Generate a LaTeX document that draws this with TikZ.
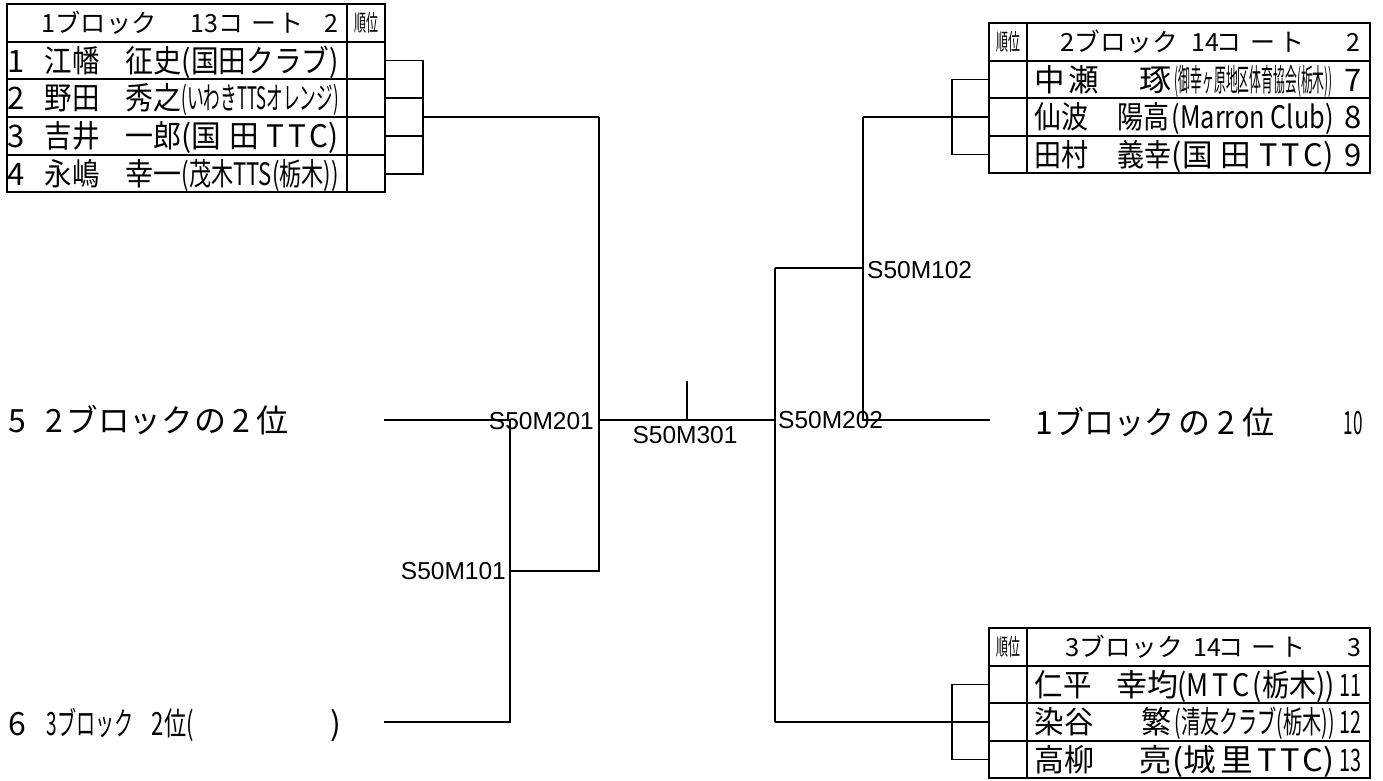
\documentclass[tikz,border=0pt]{standalone}
\usepackage{fontspec}
\usepackage{graphicx}
\setmainfont{Noto Sans CJK JP}
\newfontfamily\latf{Liberation Sans}
% piece resized to a given width, at an offset from the node origin
\newcommand\at[3]{\makebox[0pt][l]{\hspace*{#1pt}\resizebox{#2pt}{\height}{#3}}}
% piece at natural size, left edge at offset
\newcommand\atn[2]{\makebox[0pt][l]{\hspace*{#1pt}#2}}
% piece at natural size, centred on offset
\newcommand\atc[2]{\makebox[0pt][l]{\hspace*{#1pt}\makebox[0pt]{#2}}}
\tikzset{
  ln/.style={line width=1.3pt},
  tb/.style={line width=1.3pt},
  rowtxt/.style={anchor=base west, inner sep=0pt, font=\fontsize{31}{31}\selectfont},
  hdtxt/.style={anchor=base west, inner sep=0pt, font=\fontsize{25}{25}\selectfont},
  rktxt/.style={anchor=base west, inner sep=0pt, font=\fontsize{23}{23}\selectfont},
  bigtxt/.style={anchor=base west, inner sep=0pt, font=\fontsize{32}{32}\selectfont},
  code/.style={inner sep=0pt, font=\latf\fontsize{24.5}{24.5}\selectfont},
}
\begin{document}
\begin{tikzpicture}[x=1pt,y=-1pt]
\useasboundingbox (0,0) rectangle (1383,780);
\fill[white] (0,0) rectangle (1383,780);

% ---------- tables ----------
\draw[tb] (7,4) rectangle (385,192);
\draw[tb] (347,4) -- (347,192);
\foreach \y in {42,79,117,155} \draw[tb] (7,\y) -- (385,\y);

\draw[tb] (989,23) rectangle (1370,173);
\draw[tb] (1027,23) -- (1027,173);
\foreach \y in {61,98,136} \draw[tb] (989,\y) -- (1370,\y);

\draw[tb] (989,628) rectangle (1370,778);
\draw[tb] (1027,628) -- (1027,778);
\foreach \y in {666,703,741} \draw[tb] (989,\y) -- (1370,\y);

% ---------- table texts ----------
% block 1
\node[hdtxt] (h1) at (0,32) {\at{41}{115}{1ブロック}\atc{203.5}{13}\atc{230}{コ}\atc{263.5}{ー}\atc{290}{ト}\atc{331}{2}};
\node[rktxt] (rk1) at (0,31) {\at{354}{24}{順位}};
\node[rowtxt] (p1) at (0,72) {\atn{7}{1}\at{44}{55}{江幡}\at{125}{56}{征史}\at{181}{157}{(国田クラブ)}};
\node[rowtxt] (p2) at (0,109.5) {\atn{7}{2}\at{44}{55}{野田}\at{125}{56}{秀之}\at{181}{157}{(いわきTTSオレンジ)}};
\node[rowtxt] (p3) at (0,147.5) {\atn{7}{3}\at{44}{55}{吉井}\at{125}{56}{一郎}\at{181}{157}{(国\hspace{8pt}田\hspace{8pt}T\hspace{4pt}T\hspace{4pt}C)}};
\node[rowtxt] (p4) at (0,185.5) {\atn{7}{4}\at{44}{55}{永嶋}\at{125}{56}{幸一}\at{181}{157}{(茂木TTS(栃木))}};

% block 2
\node[hdtxt] (h2) at (0,51) {\at{1060}{117}{2ブロック}\atc{1205}{14}\atc{1228.5}{コ}\atc{1262.5}{ー}\atc{1291.5}{ト}\atc{1352.5}{2}};
\node[rktxt] (rk2) at (0,50) {\at{996}{24}{順位}};
\node[rowtxt] (p7) at (0,91) {\at{1034}{64}{中\hspace{3pt}瀬}\at{1139}{32}{琢}\at{1174}{158}{(御幸ヶ原地区体育協会(栃木))}\atc{1352.5}{7}};
\node[rowtxt] (p8) at (0,128.5) {\at{1034}{54}{仙波}\at{1117}{52}{陽高}\at{1171}{162}{(Marron Club)}\atc{1352.5}{8}};
\node[rowtxt] (p9) at (0,166) {\at{1034}{54}{田村}\at{1117}{54}{義幸}\at{1171}{162}{(国\hspace{8pt}田\hspace{8pt}T\hspace{4pt}T\hspace{4pt}C)}\atc{1352.5}{9}};

% block 3
\node[hdtxt] (h3) at (0,656) {\at{1065}{117}{3ブロック}\atc{1206.5}{14}\atc{1230}{コ}\atc{1263.5}{ー}\atc{1292.5}{ト}\atc{1354}{3}};
\node[rktxt] (rk3) at (0,655) {\at{996}{24}{順位}};
\node[rowtxt] (p11) at (0,696) {\at{1034}{57}{仁平}\at{1116}{62}{幸均}\at{1177}{157}{(M\hspace{4pt}T\hspace{4pt}C\hspace{4pt}(栃木))}\at{1339}{22}{11}};
\node[rowtxt] (p12) at (0,733.5) {\at{1034}{59}{染谷}\at{1141}{30}{繁}\at{1174}{160}{(清友クラブ(栃木))}\at{1339}{22}{12}};
\node[rowtxt] (p13) at (0,771) {\at{1034}{60}{高柳}\at{1139}{32}{亮}\at{1172}{162}{(城\hspace{4pt}里\hspace{4pt}T\hspace{3pt}T\hspace{3pt}C)}\at{1339}{22}{13}};

% ---------- side entries ----------
\node[bigtxt] (p5) at (0,432) {\atc{16.5}{5}\atc{53.5}{2}\at{66}{126}{ブロック}\atc{210}{の}\atc{240.5}{2}\atc{272}{位}};
\node[bigtxt] (p6) at (0,735) {\atc{16.5}{6}\at{46}{87}{3ブロック}\at{151}{42}{2位(}\atc{335.5}{)}};
\node[bigtxt] (p10) at (0,434) {\atc{1044}{1}\at{1054}{120}{ブロック}\atc{1193.5}{の}\atc{1225.5}{2}\atc{1258}{位}\at{1343}{19}{10}};

% ---------- bracket coordinates ----------
\coordinate (e1a) at (385,60.5);  \coordinate (e1b) at (385,98);
\coordinate (e1c) at (385,136);   \coordinate (e1d) at (385,174);
\coordinate (v1a) at (423,60.5);  \coordinate (v1b) at (423,98);
\coordinate (v1c) at (423,136);   \coordinate (v1d) at (423,174);
\coordinate (w1) at (423,117);

\coordinate (e2a) at (989,79.5);  \coordinate (e2b) at (989,117);  \coordinate (e2c) at (989,154.5);
\coordinate (v2a) at (952,79.5);  \coordinate (v2b) at (952,117);  \coordinate (v2c) at (952,154.5);

\coordinate (e3a) at (989,684.5); \coordinate (e3b) at (989,722);  \coordinate (e3c) at (989,759.5);
\coordinate (v3a) at (952,684.5); \coordinate (v3b) at (952,722);  \coordinate (v3c) at (952,759.5);

\coordinate (in5) at (384,420);   \coordinate (in6) at (384,722);
\coordinate (m101t) at (510,420); \coordinate (m101b) at (510,722); \coordinate (m101o) at (510,571);
\coordinate (m201t) at (599,117); \coordinate (m201b) at (599,571); \coordinate (m201o) at (599,420);
\coordinate (m301) at (687,420);  \coordinate (m301t) at (687,381);
\coordinate (m202t) at (775,268); \coordinate (m202b) at (775,722); \coordinate (m202o) at (775,420);
\coordinate (m102t) at (863,117); \coordinate (m102b) at (863,420); \coordinate (m102o) at (863,268);
\coordinate (in10) at (990,420);

% ---------- connectors ----------
% block 1 bracket
\draw[ln] (e1a) -- (v1a) -- (v1d) -- (e1d);
\draw[ln] (e1b) -- (v1b);
\draw[ln] (e1c) -- (v1c);
\draw[ln] (w1) -- (m201t);
% block 2 bracket
\draw[ln] (e2a) -- (v2a) -- (v2c) -- (e2c);
\draw[ln] (e2b) -- (v2b);
\draw[ln] (v2b) -- (m102t);
% block 3 bracket
\draw[ln] (e3a) -- (v3a) -- (v3c) -- (e3c);
\draw[ln] (e3b) -- (v3b);
\draw[ln] (v3b) -- (m202b);
% main bracket
\draw[ln] (in5) -- (m101t) -- (m101b) -- (in6);
\draw[ln] (m101o) -- (m201b) -- (m201t);
\draw[ln] (m201o) -- (m202o);
\draw[ln] (m301) -- (m301t);
\draw[ln] (m202t) -- (m202b);
\draw[ln] (m202t) -- (m102o);
\draw[ln] (m102t) -- (m102b) -- (in10);

% ---------- match labels ----------
\node[code, anchor=east] (l101) at (506,571.5) {S50M101};
\node[code, anchor=east] (l201) at (594,421) {S50M201};
\node[code] (l301) at (685,435.5) {S50M301};
\node[code, anchor=west] (l102) at (867,270) {S50M102};
\node[code, anchor=west] (l202) at (778,420.5) {S50M202};
\end{tikzpicture}
\end{document}
